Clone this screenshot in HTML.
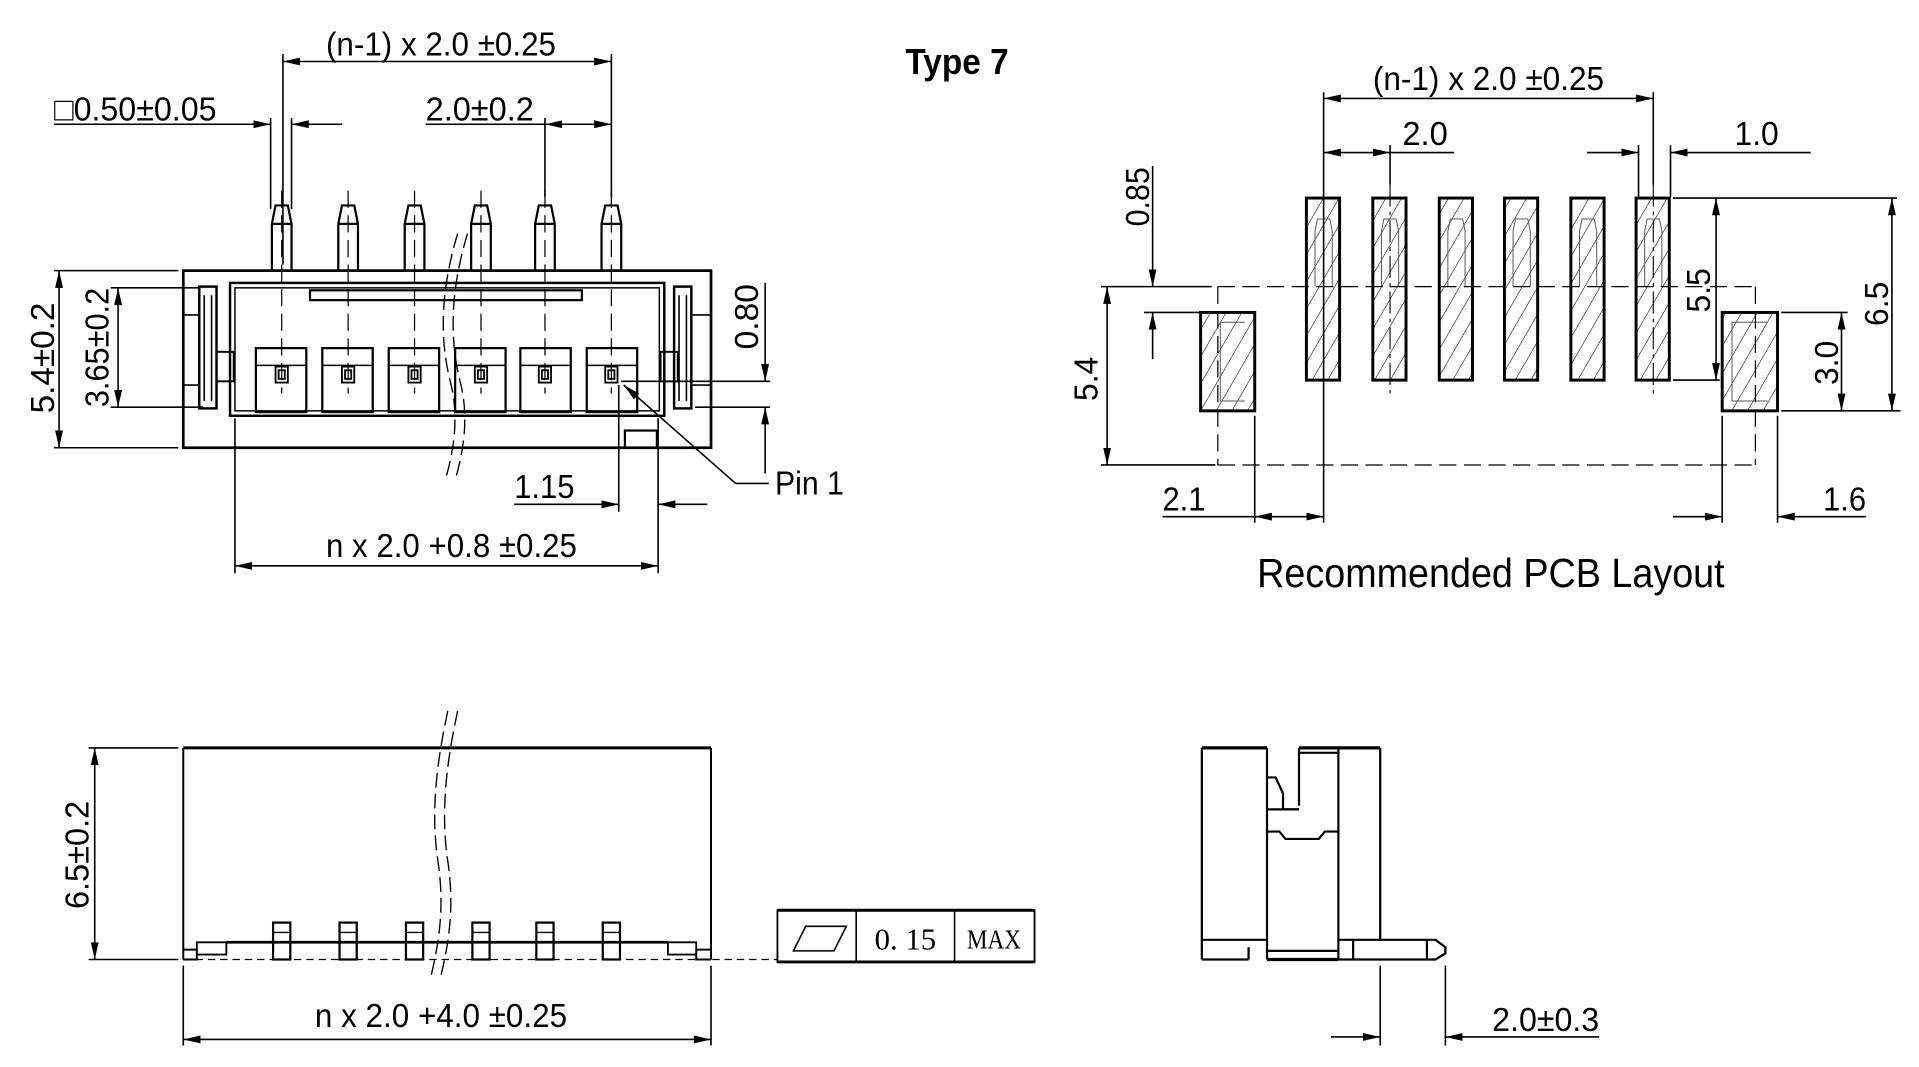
<!DOCTYPE html>
<html><head><meta charset="utf-8"><style>
html,body{margin:0;padding:0;background:#fff;}
svg{display:block;}
text{font-family:"Liberation Sans Narrow","Liberation Sans",sans-serif;fill:#000;}
</style></head><body>
<svg width="1919" height="1067" viewBox="0 0 1560 867.4" preserveAspectRatio="none" xmlns="http://www.w3.org/2000/svg">
<defs>
<marker id="a" markerUnits="userSpaceOnUse" markerWidth="16" markerHeight="8" refX="14" refY="4" orient="auto-start-reverse"><path d="M0,0.8 L14,4 L0,7.2z" fill="#000"/></marker>
<pattern id="h" patternUnits="userSpaceOnUse" width="11" height="11" patternTransform="rotate(30)"><line x1="0" y1="0" x2="0" y2="11" stroke="#000" stroke-width="0.9"/></pattern>
</defs>
<g stroke="#000" fill="none" stroke-width="1.3">

<line x1="230" y1="50" x2="497" y2="50" marker-start="url(#a)" marker-end="url(#a)"/>
<line x1="230" y1="44" x2="230" y2="215"/>
<line x1="497" y1="44" x2="497" y2="160"/>
<line x1="44" y1="101" x2="220" y2="101" marker-end="url(#a)"/>
<line x1="278" y1="101" x2="237" y2="101" marker-end="url(#a)"/>
<line x1="220" y1="96" x2="220" y2="170"/>
<line x1="237" y1="96" x2="237" y2="170"/>
<line x1="346" y1="101" x2="443" y2="101"/>
<line x1="443" y1="101" x2="497" y2="101" marker-start="url(#a)" marker-end="url(#a)"/>
<line x1="443" y1="96" x2="443" y2="160"/>
<g stroke-width="1.8">
<path d="M221,220 L221,182 L224,167 L234,167 L237,182 L237,220 M221,182 L237,182"/>
<path d="M275,220 L275,182 L278,167 L288,167 L291,182 L291,220 M275,182 L291,182"/>
<path d="M329,220 L329,182 L332,167 L342,167 L345,182 L345,220 M329,182 L345,182"/>
<path d="M383,220 L383,182 L386,167 L396,167 L399,182 L399,220 M383,182 L399,182"/>
<path d="M435,220 L435,182 L438,167 L448,167 L451,182 L451,220 M435,182 L451,182"/>
<path d="M489,220 L489,182 L492,167 L502,167 L505,182 L505,220 M489,182 L505,182"/>
</g>
<g stroke-dasharray="14,6" stroke-width="1">
<line x1="229" y1="155" x2="229" y2="320"/><line x1="283" y1="155" x2="283" y2="320"/>
<line x1="337" y1="155" x2="337" y2="320"/><line x1="391" y1="155" x2="391" y2="320"/>
<line x1="443" y1="155" x2="443" y2="320"/><line x1="497" y1="155" x2="497" y2="320"/>
</g>
<rect x="149" y="220" width="429" height="144" stroke-width="2.2"/>
<rect x="187" y="230" width="353" height="108" stroke-width="2"/>
<rect x="191" y="234" width="345" height="100" stroke-width="1.2"/>
<rect x="252" y="236" width="221" height="8" stroke-width="1.8"/>
<rect x="162" y="233" width="14" height="99" stroke-width="2"/>
<line x1="166" y1="240" x2="166" y2="326"/><line x1="172" y1="240" x2="172" y2="326"/>
<rect x="548" y="233" width="14" height="99" stroke-width="2"/>
<line x1="552" y1="240" x2="552" y2="326"/><line x1="558" y1="240" x2="558" y2="326"/>
<line x1="149" y1="256" x2="162" y2="256"/><line x1="149" y1="313" x2="162" y2="313"/>
<line x1="563" y1="256" x2="578" y2="256"/><line x1="563" y1="313" x2="578" y2="313"/>
<rect x="176" y="286" width="14" height="24" stroke-width="1.6"/>
<rect x="537" y="286" width="14" height="24" stroke-width="1.6"/>
<g stroke-width="1.8">
<rect x="208" y="283" width="41" height="52"/><rect x="262" y="283" width="41" height="52"/>
<rect x="316" y="283" width="41" height="52"/><rect x="370" y="283" width="41" height="52"/>
<rect x="423" y="283" width="41" height="52"/><rect x="477" y="283" width="41" height="52"/>
</g>
<g stroke-width="1.2">
<line x1="208" y1="297" x2="249" y2="297"/><line x1="262" y1="297" x2="303" y2="297"/>
<line x1="316" y1="297" x2="357" y2="297"/><line x1="370" y1="297" x2="411" y2="297"/>
<line x1="423" y1="297" x2="464" y2="297"/><line x1="477" y1="297" x2="518" y2="297"/>
</g>
<g stroke-width="1.5">
<rect x="224" y="298" width="10" height="13"/><rect x="278" y="298" width="10" height="13"/>
<rect x="332" y="298" width="10" height="13"/><rect x="386" y="298" width="10" height="13"/>
<rect x="438" y="298" width="10" height="13"/><rect x="492" y="298" width="10" height="13"/>
<rect x="226.5" y="301" width="5" height="7"/><rect x="280.5" y="301" width="5" height="7"/>
<rect x="334.5" y="301" width="5" height="7"/><rect x="388.5" y="301" width="5" height="7"/>
<rect x="440.5" y="301" width="5" height="7"/><rect x="494.5" y="301" width="5" height="7"/>
</g>
<rect x="508" y="350" width="26" height="14" stroke-width="1.8"/>
<g stroke-dasharray="12,5" stroke-width="1.1">
<path d="M372,190 C360,230 356,270 366,310 C374,340 368,370 362,390"/>
<path d="M380,190 C368,230 364,270 374,310 C382,340 376,370 370,390"/>
</g>
<line x1="44" y1="220" x2="145" y2="220"/><line x1="44" y1="364" x2="145" y2="364"/>
<line x1="48" y1="220" x2="48" y2="364" marker-start="url(#a)" marker-end="url(#a)"/>
<line x1="90" y1="234" x2="162" y2="234"/><line x1="90" y1="331" x2="165" y2="331"/>
<line x1="96" y1="234" x2="96" y2="331" marker-start="url(#a)" marker-end="url(#a)"/>
<line x1="622" y1="230" x2="622" y2="310" marker-end="url(#a)"/>
<line x1="622" y1="385" x2="622" y2="331" marker-end="url(#a)"/>
<line x1="505" y1="310" x2="626" y2="310"/><line x1="565" y1="331" x2="626" y2="331"/>
<line x1="598" y1="393" x2="507" y2="313" marker-end="url(#a)"/>
<line x1="598" y1="393" x2="625" y2="393"/>
<line x1="418" y1="410" x2="503" y2="410" marker-end="url(#a)"/>
<line x1="575" y1="410" x2="535" y2="410" marker-end="url(#a)"/>
<line x1="503" y1="313" x2="503" y2="416"/><line x1="535" y1="340" x2="535" y2="466"/>
<line x1="191" y1="460" x2="535" y2="460" marker-start="url(#a)" marker-end="url(#a)"/>
<line x1="191" y1="340" x2="191" y2="466"/>

<line x1="1076" y1="80" x2="1344" y2="80" marker-start="url(#a)" marker-end="url(#a)"/>
<line x1="1076" y1="124" x2="1130" y2="124" marker-start="url(#a)" marker-end="url(#a)"/>
<line x1="1130" y1="124" x2="1182" y2="124"/>
<line x1="1290" y1="124" x2="1332" y2="124" marker-end="url(#a)"/>
<line x1="1472" y1="124" x2="1358" y2="124" marker-end="url(#a)"/>
<line x1="1076" y1="75" x2="1076" y2="425"/>
<line x1="1344" y1="75" x2="1344" y2="150"/>
<line x1="1332" y1="118" x2="1332" y2="160"/><line x1="1358" y1="118" x2="1358" y2="160"/>
<line x1="1130" y1="118" x2="1130" y2="150"/>
<g stroke-dasharray="18,4,3,4" stroke-width="0.9">
<line x1="1130" y1="150" x2="1130" y2="320"/><line x1="1344" y1="150" x2="1344" y2="320"/>
</g>
<g fill="url(#h)" stroke-width="2.4">
<rect x="1062" y="161" width="27" height="148"/><rect x="1116" y="161" width="27" height="148"/>
<rect x="1170" y="161" width="27" height="148"/><rect x="1223" y="161" width="27" height="148"/>
<rect x="1277" y="161" width="27" height="148"/><rect x="1330" y="161" width="27" height="148"/>
<rect x="976" y="254" width="44" height="80"/><rect x="1400" y="254" width="45" height="80"/>
</g>
<g stroke-width="0.8" stroke="#555">
<path d="M1069,233 L1069,188 L1071,178 L1081,178 L1083,188 L1083,233"/>
<path d="M1123,233 L1123,188 L1125,178 L1135,178 L1137,188 L1137,233"/>
<path d="M1177,233 L1177,188 L1179,178 L1189,178 L1191,188 L1191,233"/>
<path d="M1230,233 L1230,188 L1232,178 L1242,178 L1244,188 L1244,233"/>
<path d="M1284,233 L1284,188 L1286,178 L1296,178 L1298,188 L1298,233"/>
<path d="M1337,233 L1337,188 L1339,178 L1349,178 L1351,188 L1351,233"/>
<path d="M1012,262 L992,262 L992,326 L1012,326"/>
<path d="M1437,262 L1408,262 L1408,326 L1437,326"/>
</g>
<g stroke-dasharray="14,6" stroke-width="1">
<line x1="990" y1="233" x2="1427" y2="233"/>
<line x1="990" y1="378" x2="1427" y2="378"/>
<line x1="990" y1="233" x2="990" y2="378"/>
<line x1="1427" y1="233" x2="1427" y2="378"/>
</g>
<line x1="937" y1="135" x2="937" y2="233" marker-end="url(#a)"/>
<line x1="895" y1="233" x2="985" y2="233"/>
<line x1="937" y1="292" x2="937" y2="254" marker-end="url(#a)"/>
<line x1="930" y1="254" x2="975" y2="254"/>
<line x1="900" y1="233" x2="900" y2="378" marker-start="url(#a)" marker-end="url(#a)"/>
<line x1="895" y1="378" x2="988" y2="378"/>
<line x1="945" y1="420" x2="1020" y2="420"/>
<line x1="1020" y1="420" x2="1076" y2="420" marker-start="url(#a)" marker-end="url(#a)"/>
<line x1="1020" y1="338" x2="1020" y2="425"/>
<line x1="1360" y1="420" x2="1400" y2="420" marker-end="url(#a)"/>
<line x1="1517" y1="420" x2="1445" y2="420" marker-end="url(#a)"/>
<line x1="1400" y1="338" x2="1400" y2="425"/><line x1="1445" y1="338" x2="1445" y2="425"/>
<line x1="1360" y1="161" x2="1542" y2="161"/><line x1="1360" y1="309" x2="1398" y2="309"/>
<line x1="1395" y1="161" x2="1395" y2="309" marker-start="url(#a)" marker-end="url(#a)"/>
<line x1="1448" y1="334" x2="1545" y2="334"/><line x1="1448" y1="254" x2="1502" y2="254"/>
<line x1="1538" y1="161" x2="1538" y2="334" marker-start="url(#a)" marker-end="url(#a)"/>
<line x1="1497" y1="254" x2="1497" y2="334" marker-start="url(#a)" marker-end="url(#a)"/>

<line x1="149" y1="608" x2="578" y2="608" stroke-width="2.4"/>
<line x1="149" y1="608" x2="149" y2="780" stroke-width="1.6"/>
<line x1="578" y1="608" x2="578" y2="780" stroke-width="1.6"/>
<path d="M149,772 L160,772 L160,780 L149,780 M578,772 L566,772 L566,780 L578,780" stroke-width="1.6"/>
<path d="M160,772 L160,766 L184,766 L184,776 L160,776" stroke-width="1.5"/>
<path d="M566,772 L566,766 L543,766 L543,776 L566,776" stroke-width="1.5"/>
<line x1="184" y1="766" x2="543" y2="766" stroke-width="2.2"/>
<g stroke-width="1.8">
<rect x="222" y="750" width="14" height="30"/><rect x="276" y="750" width="14" height="30"/>
<rect x="330" y="750" width="14" height="30"/><rect x="384" y="750" width="14" height="30"/>
<rect x="436" y="750" width="14" height="30"/><rect x="490" y="750" width="14" height="30"/>
</g>
<g stroke-width="1.2">
<line x1="222" y1="758" x2="236" y2="758"/><line x1="276" y1="758" x2="290" y2="758"/>
<line x1="330" y1="758" x2="344" y2="758"/><line x1="384" y1="758" x2="398" y2="758"/>
<line x1="436" y1="758" x2="450" y2="758"/><line x1="490" y1="758" x2="504" y2="758"/>
</g>
<line x1="149" y1="780" x2="632" y2="780" stroke-dasharray="6,4" stroke-width="1"/>
<g stroke-dasharray="12,5" stroke-width="1.1">
<path d="M364,578 C355,620 350,660 356,700 C362,740 356,770 350,795"/>
<path d="M372,578 C363,620 358,660 364,700 C370,740 364,770 358,795"/>
</g>
<line x1="72" y1="608" x2="145" y2="608"/><line x1="72" y1="780" x2="145" y2="780"/>
<line x1="77" y1="608" x2="77" y2="780" marker-start="url(#a)" marker-end="url(#a)"/>
<line x1="149" y1="785" x2="149" y2="850"/><line x1="578" y1="785" x2="578" y2="850"/>
<line x1="149" y1="845" x2="578" y2="845" marker-start="url(#a)" marker-end="url(#a)"/>
<rect x="632" y="740" width="209" height="42" stroke-width="1.5"/>
<line x1="632" y1="740" x2="841" y2="740" stroke-width="2.4"/>
<line x1="632" y1="782" x2="841" y2="782" stroke-width="2.4"/>
<line x1="696" y1="740" x2="696" y2="782"/><line x1="776" y1="740" x2="776" y2="782"/>
<path d="M655,753 L688,753 L678,773 L645,773z" stroke-width="1.3"/>

<g stroke-width="1.8">
<line x1="977" y1="608" x2="1030" y2="608" stroke-width="2.6"/>
<line x1="1056" y1="608" x2="1122" y2="608" stroke-width="2.6"/>
<line x1="977" y1="608" x2="977" y2="780"/>
<line x1="1030" y1="608" x2="1030" y2="780"/>
<line x1="1088" y1="608" x2="1088" y2="780"/>
<line x1="1122" y1="608" x2="1122" y2="764"/>
<line x1="1056" y1="608" x2="1056" y2="655"/>
<line x1="1056" y1="612" x2="1088" y2="612"/>
<path d="M1030,632 L1037,632 L1043,645 L1043,658 L1056,658"/>
<line x1="1030" y1="658" x2="1056" y2="658"/>
<path d="M1030,676 L1040,676 L1045,682 L1072,682 L1077,676 L1088,676"/>
<line x1="977" y1="764" x2="1030" y2="764"/>
<line x1="977" y1="780" x2="1015" y2="780"/>
<line x1="1015" y1="770" x2="1015" y2="780"/>
<line x1="1030" y1="780" x2="1088" y2="780" stroke-width="2.6"/>
<line x1="1030" y1="773" x2="1088" y2="773"/>
<path d="M1088,764 L1167,764 L1175,770 L1175,775 L1167,780 L1088,780"/>
<line x1="1100" y1="764" x2="1100" y2="780"/>
<line x1="1160" y1="764" x2="1160" y2="780"/>
</g>
<line x1="1122" y1="785" x2="1122" y2="850"/><line x1="1175" y1="785" x2="1175" y2="850"/>
<line x1="1082" y1="843" x2="1122" y2="843" marker-end="url(#a)"/>
<line x1="1300" y1="843" x2="1175" y2="843" marker-end="url(#a)"/>
</g>

<g font-size="27" lengthAdjust="spacingAndGlyphs">
<text x="265" y="45" textLength="187" lengthAdjust="spacingAndGlyphs">(n-1) x 2.0 ±0.25</text>
<text x="44" y="98" textLength="132" lengthAdjust="spacingAndGlyphs">□0.50±0.05</text>
<text x="346" y="98" textLength="88" lengthAdjust="spacingAndGlyphs">2.0±0.2</text>
<text x="630" y="402" textLength="56" lengthAdjust="spacingAndGlyphs">Pin 1</text>
<text x="418" y="405" textLength="49" lengthAdjust="spacingAndGlyphs">1.15</text>
<text x="265" y="453" textLength="204" lengthAdjust="spacingAndGlyphs">n x 2.0 +0.8 ±0.25</text>
<text transform="translate(44,336) rotate(-90)" textLength="90" lengthAdjust="spacingAndGlyphs">5.4±0.2</text>
<text transform="translate(88,331) rotate(-90)" textLength="97" lengthAdjust="spacingAndGlyphs">3.65±0.2</text>
<text transform="translate(616,284) rotate(-90)" textLength="53" lengthAdjust="spacingAndGlyphs">0.80</text>
<text x="1116" y="73" textLength="188" lengthAdjust="spacingAndGlyphs">(n-1) x 2.0 ±0.25</text>
<text x="1140" y="118" textLength="37" lengthAdjust="spacingAndGlyphs">2.0</text>
<text x="1410" y="118" textLength="36" lengthAdjust="spacingAndGlyphs">1.0</text>
<text transform="translate(934,184) rotate(-90)" textLength="48" lengthAdjust="spacingAndGlyphs">0.85</text>
<text transform="translate(892,326) rotate(-90)" textLength="36" lengthAdjust="spacingAndGlyphs">5.4</text>
<text x="945" y="415" textLength="35" lengthAdjust="spacingAndGlyphs">2.1</text>
<text x="1482" y="415" textLength="35" lengthAdjust="spacingAndGlyphs">1.6</text>
<text transform="translate(1390,254) rotate(-90)" textLength="36" lengthAdjust="spacingAndGlyphs">5.5</text>
<text transform="translate(1535,265) rotate(-90)" textLength="36" lengthAdjust="spacingAndGlyphs">6.5</text>
<text transform="translate(1494,313) rotate(-90)" textLength="36" lengthAdjust="spacingAndGlyphs">3.0</text>
<text transform="translate(72,739) rotate(-90)" textLength="88" lengthAdjust="spacingAndGlyphs">6.5±0.2</text>
<text x="256" y="835" textLength="205" lengthAdjust="spacingAndGlyphs">n x 2.0 +4.0 ±0.25</text>
<text x="1213" y="838" textLength="87" lengthAdjust="spacingAndGlyphs">2.0±0.3</text>
</g>
<text x="1022" y="477" font-size="33" textLength="380" lengthAdjust="spacingAndGlyphs">Recommended PCB Layout</text>
<text x="736" y="60" font-size="29" font-weight="bold" textLength="84" lengthAdjust="spacingAndGlyphs">Type 7</text>
<text x="736" y="772" text-anchor="middle" font-size="25" style="font-family:'Liberation Serif',serif">0. 15</text>
<text x="786" y="771" font-size="22" style="font-family:'Liberation Serif',serif" textLength="44" lengthAdjust="spacingAndGlyphs">MAX</text>
</svg>
</body></html>
